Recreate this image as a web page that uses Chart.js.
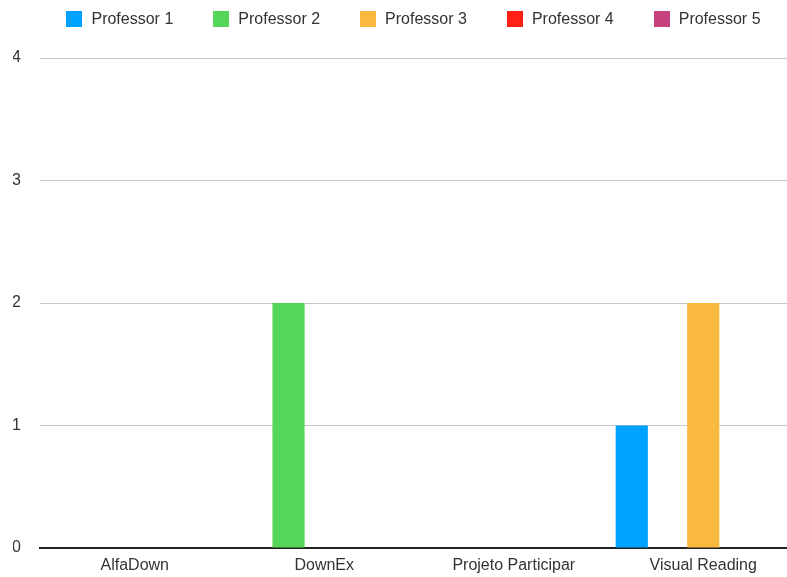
<!DOCTYPE html>
<html>
<head>
<meta charset="utf-8">
<script src="https://cdn.jsdelivr.net/npm/chart.js@4"></script>
<style>
  html, body { margin: 0; padding: 0; background: #fff; }
  #wrap { position: relative; width: 787px; height: 577px; overflow: hidden; }
  #legend {
    position: absolute; top: 11px; left: 40px; width: 747px;
    display: flex; justify-content: center; gap: 40px;
    font-family: "Liberation Sans", Arial, sans-serif; font-size: 16px; color: #333;
  }
  #legend .it { display: flex; align-items: center; line-height: 16px; }
  #legend .bx { width: 16px; height: 16px; margin-right: 9px; }
  #chart { position: absolute; left: 0; top: 0; }
</style>
</head>
<body>
<div id="wrap">
  <canvas id="chart" width="798" height="577"></canvas>
  <div id="legend"></div>
</div>
<script>
const categories = ["AlfaDown", "DownEx", "Projeto Participar", "Visual Reading"];
const seriesNames = ["Professor 1", "Professor 2", "Professor 3", "Professor 4", "Professor 5"];
const seriesColors = ["#00A2FF", "#56D658", "#F9B83E", "#FF2116", "#C6427F"];

const prof1 = [0, 0, 0, 1];
const prof2 = [0, 2, 0, 0];
const prof3 = [0, 0, 0, 2];
const prof4 = [0, 0, 0, 0];
const prof5 = [0, 0, 0, 0];
const allValues = [prof1, prof2, prof3, prof4, prof5];

const yTicks = [0, 1, 2, 3, 4];

// legend in html, centered over the plot
const lg = document.getElementById("legend");
seriesNames.forEach((n, i) => {
  const d = document.createElement("div");
  d.className = "it";
  d.innerHTML = `<span class="bx" style="background:${seriesColors[i]}"></span><span>${n}</span>`;
  lg.appendChild(d);
});

const ctx = document.getElementById("chart").getContext("2d");

new Chart(ctx, {
  type: "bar",
  data: {
    labels: categories,
    datasets: seriesNames.map((n, i) => ({
      label: n,
      data: allValues[i],
      backgroundColor: seriesColors[i],
      borderWidth: 0,
      categoryPercentage: 0.943,
      barPercentage: 0.9
    }))
  },
  options: {
    responsive: false,
    animation: false,
    devicePixelRatio: 1,
    layout: {
      padding: { top: 58, left: 13, right: 0, bottom: 2 }
    },
    plugins: {
      legend: { display: false },
      tooltip: { enabled: false }
    },
    scales: {
      x: {
        afterFit: s => { s.height = 27; },
        grid: { display: false, drawTicks: false },
        border: { display: true, color: "#222", width: 2 },
        ticks: {
          padding: 8,
          color: "#333",
          font: { family: "Liberation Sans", size: 16 },
          maxRotation: 0
        }
      },
      y: {
        min: yTicks[0],
        max: yTicks[yTicks.length - 1],
        afterFit: s => { s.width = 27; },
        afterBuildTicks: s => { s.ticks = yTicks.map(v => ({ value: v })); },
        grid: {
          drawTicks: false,
          color: c => c.tick && c.tick.value === 0 ? "rgba(0,0,0,0)" : "#c8c8c8",
          lineWidth: 1
        },
        border: { display: false },
        ticks: {
          padding: 19,
          color: "#333",
          font: { family: "Liberation Sans", size: 16 }
        }
      }
    }
  }
});
</script>
</body>
</html>
